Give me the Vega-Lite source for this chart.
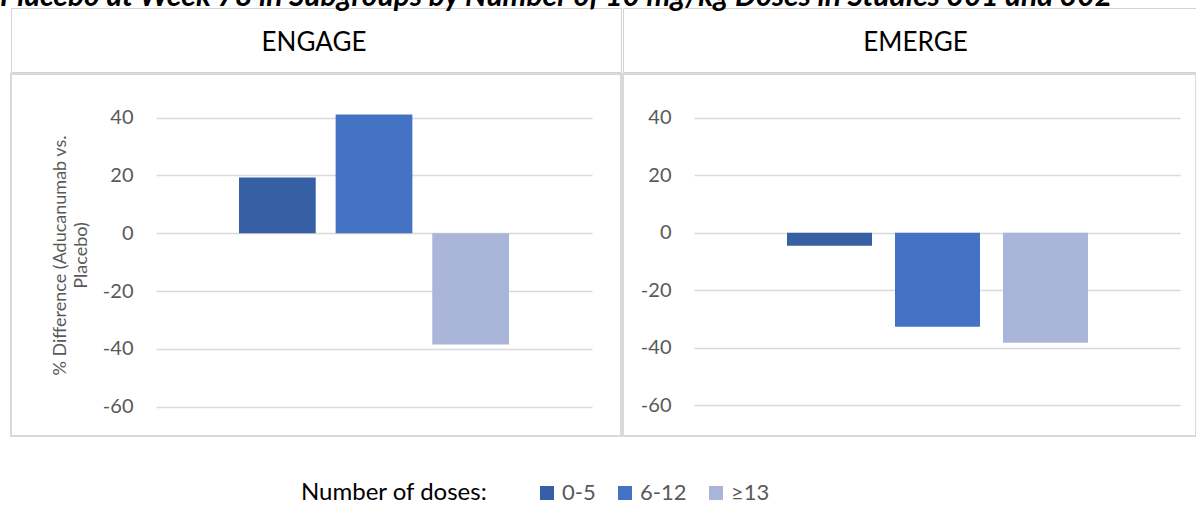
{
  "$schema": "https://vega.github.io/schema/vega-lite/v6.json",
  "padding": {"left": 0, "top": -19, "right": 0, "bottom": 0},
  "background": "white",
  "config": {
    "font": "Lato",
    "concat": {"spacing": 0}
  },
  "title": {
    "text": "Placebo at Week 78 in Subgroups by Number of 10 mg/kg Doses in Studies 301 and 302",
    "anchor": "start",
    "fontSize": 30,
    "fontStyle": "italic",
    "fontWeight": "bold",
    "font": "Lato",
    "color": "#000000",
    "offset": -4,
    "dx": -10
  },
  "datasets": {
    "bars": [
      {"study": "ENGAGE", "doses": "0-5", "value": 19.3},
      {"study": "ENGAGE", "doses": "6-12", "value": 41.1},
      {"study": "ENGAGE", "doses": "≥13", "value": -38.5},
      {"study": "EMERGE", "doses": "0-5", "value": -4.5},
      {"study": "EMERGE", "doses": "6-12", "value": -32.7},
      {"study": "EMERGE", "doses": "≥13", "value": -38.3}
    ],
    "studies": [
      {"study": "ENGAGE"},
      {"study": "EMERGE"}
    ]
  },
  "hconcat": [
    {
      "spacing": 0,
      "vconcat": [
        {
          "width": 610,
          "height": 64,
          "view": {"stroke": "#d4d4d4", "strokeWidth": 1},
          "data": {"name": "studies"},
          "transform": [{"filter": "datum.study === 'ENGAGE'"}],
          "mark": {"type": "text", "fontSize": 26, "font": "Lato", "color": "#000000", "dx": -2, "dy": 3},
          "encoding": {"text": {"field": "study", "type": "nominal"}}
        },
        {
          "width": 610,
          "height": 362,
          "view": {"stroke": "#d9d9d9", "strokeWidth": 2},
          "data": {"name": "bars"},
          "transform": [{"filter": "datum.study === 'ENGAGE'"}],
          "mark": {"type": "bar"},
          "encoding": {
            "x": {
              "field": "doses", "type": "nominal", "sort": ["0-5", "6-12", "≥13"], "axis": null,
              "scale": {"paddingInner": 0.206, "paddingOuter": 0, "range": [228, 498]}
            },
            "y": {
              "field": "value", "type": "quantitative",
              "scale": {"domain": [-70.14, 55.12], "nice": false, "zero": false},
              "axis": {
                "values": [-60, -40, -20, 0, 20, 40],
                "labelExpr": "datum.value + ''",
                "grid": false, "domain": false, "ticks": true,
                "tickSize": -436, "tickColor": "#d9d9d9", "tickWidth": 1.5,
                "labelPadding": 459, "offset": -145,
                "labelFontSize": 20, "labelColor": "#595959", "labelFont": "Lato",
                "title": ["% Difference (Aducanumab vs.", "Placebo)"],
                "titleFontSize": 18, "titleFontWeight": "normal", "titleColor": "#595959",
                "titleFont": "Lato", "titleLineHeight": 21, "titlePadding": 12
              }
            },
            "color": {
              "field": "doses", "type": "nominal",
              "scale": {"domain": ["0-5", "6-12", "≥13"], "range": ["#375FA3", "#4472C4", "#A9B6DA"]},
              "legend": {
                "orient": "none", "legendX": 290, "legendY": 474,
                "direction": "horizontal", "titleOrient": "left",
                "title": "Number of doses:", "titleFontSize": 24, "titleFontWeight": "normal",
                "titleColor": "#000000", "titleFont": "Lato", "titlePadding": 48, "titleLimit": 400,
                "labelFontSize": 22, "labelColor": "#595959", "labelFont": "Lato",
                "symbolType": "square", "symbolSize": 196, "symbolStrokeWidth": 0,
                "columnPadding": 18, "labelOffset": 4
              }
            }
          }
        }
      ]
    },
    {
      "spacing": 0,
      "vconcat": [
        {
          "width": 573,
          "height": 64,
          "view": {"stroke": "#d4d4d4", "strokeWidth": 1},
          "data": {"name": "studies"},
          "transform": [{"filter": "datum.study === 'EMERGE'"}],
          "mark": {"type": "text", "fontSize": 26, "font": "Lato", "color": "#000000", "dx": 6, "dy": 3},
          "encoding": {"text": {"field": "study", "type": "nominal"}}
        },
        {
          "width": 573,
          "height": 362,
          "view": {"stroke": "#d9d9d9", "strokeWidth": 2},
          "data": {"name": "bars"},
          "transform": [{"filter": "datum.study === 'EMERGE'"}],
          "mark": {"type": "bar"},
          "encoding": {
            "x": {
              "field": "doses", "type": "nominal", "sort": ["0-5", "6-12", "≥13"], "axis": null,
              "scale": {"paddingInner": 0.213, "paddingOuter": 0, "range": [164, 465]}
            },
            "y": {
              "field": "value", "type": "quantitative",
              "scale": {"domain": [-70.76, 55.24], "nice": false, "zero": false},
              "axis": {
                "values": [-60, -40, -20, 0, 20, 40],
                "labelExpr": "datum.value + ''",
                "grid": false, "domain": false, "ticks": true,
                "tickSize": -486, "tickColor": "#d9d9d9", "tickWidth": 1.5,
                "labelPadding": 509, "offset": -71,
                "labelFontSize": 20, "labelColor": "#595959", "labelFont": "Lato",
                "title": null
              }
            },
            "color": {
              "field": "doses", "type": "nominal",
              "scale": {"domain": ["0-5", "6-12", "≥13"], "range": ["#375FA3", "#4472C4", "#A9B6DA"]}
            }
          }
        }
      ]
    }
  ]
}
